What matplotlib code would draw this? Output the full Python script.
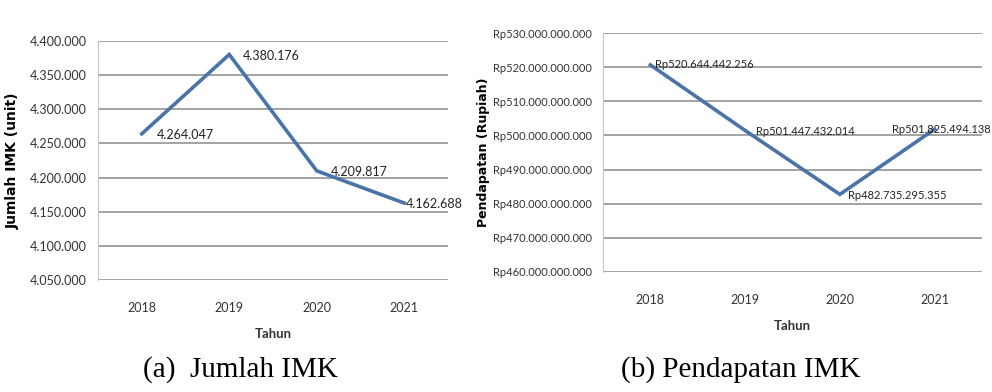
import matplotlib.pyplot as plt
from matplotlib.ticker import FuncFormatter

# ── DATA ──────────────────────────────────────────────
tahun = ["2018", "2019", "2020", "2021"]
jumlah_imk = [4264047, 4380176, 4209817, 4162688]
pendapatan_imk = [520644442256, 501447432014, 482735295355, 501825494138]
jumlah_ticks = [4050000, 4100000, 4150000, 4200000, 4250000, 4300000, 4350000, 4400000]
pendapatan_ticks = [460e9, 470e9, 480e9, 490e9, 500e9, 510e9, 520e9, 530e9]


def titik(v):
    return f"{int(round(v)):,}".replace(",", ".")


narrow = ["Lato", "DejaVu Sans"]
blue = "#4a74a8"
grid = "#a3a3a3"

fig = plt.figure(figsize=(9.92, 3.92), dpi=100)
ax1 = fig.add_axes([98 / 992, 1 - 280 / 392, 350 / 992, 239 / 392])
ax2 = fig.add_axes([603 / 992, 1 - 272 / 392, 379 / 992, 239 / 392])


def style(ax, ticks, fmt, size):
    x = range(len(tahun))
    ax.set_xlim(-0.5, len(tahun) - 0.5)
    ax.set_ylim(ticks[0], ticks[-1])
    ax.set_yticks(ticks)
    ax.yaxis.set_major_formatter(FuncFormatter(lambda v, p: fmt(v)))
    ax.set_xticks(list(x))
    ax.set_xticklabels(tahun)
    ax.grid(axis="y", color=grid, lw=1.4)
    ax.set_axisbelow(True)
    for s in ["top", "right", "bottom"]:
        ax.spines[s].set_visible(False)
    ax.spines["left"].set_color("#c4c4c4")
    ax.tick_params(length=0, labelsize=size, colors="#333333", pad=8)
    ax.tick_params(axis="x", labelsize=9, pad=16)
    for lab in ax.get_xticklabels() + ax.get_yticklabels():
        lab.set_family(narrow)


# ── (a) Jumlah IMK ────────────────────────────────────
style(ax1, jumlah_ticks, titik, 9)
ax1.plot(range(4), jumlah_imk, color=blue, lw=2.6, solid_joinstyle="miter")
offs1 = [(11, -1), (10, -1), (10, -1), (1, -1)]
for i, v in enumerate(jumlah_imk):
    ax1.annotate(titik(v), (i, v), xytext=offs1[i], textcoords="offset points",
                 fontsize=9, family=narrow, color="#222222", va="center")
ax1.set_ylabel("Jumlah IMK (unit)", fontsize=10, fontweight="bold", labelpad=7)
ax1.set_xlabel("Tahun", fontsize=9.5, family=narrow, fontweight="bold", color="#333333", labelpad=10)

# ── (b) Pendapatan IMK ────────────────────────────────
style(ax2, pendapatan_ticks, lambda v: "Rp" + titik(v), 8)
ax2.plot(range(4), pendapatan_imk, color=blue, lw=2.6, solid_joinstyle="miter")
offs2 = [(3, 0), (8, -1), (6, -1), (-31, 0)]
for i, v in enumerate(pendapatan_imk):
    ax2.annotate("Rp" + titik(v), (i, v), xytext=offs2[i], textcoords="offset points",
                 fontsize=8, family=narrow, color="#222222", va="center")
ax2.set_ylabel("Pendapatan (Rupiah)", fontsize=9, fontweight="bold", labelpad=2)
ax2.set_xlabel("Tahun", fontsize=9.5, family=narrow, fontweight="bold", color="#333333", labelpad=10)

# ── CAPTIONS ──────────────────────────────────────────
fig.text(240 / 992, 1 - 370 / 392, "(a)  Jumlah IMK", fontsize=21,
         family="Liberation Serif", ha="center", va="center")
fig.text(741 / 992, 1 - 370 / 392, "(b) Pendapatan IMK", fontsize=21,
         family="Liberation Serif", ha="center", va="center")

fig.savefig("out.png", dpi=100)
